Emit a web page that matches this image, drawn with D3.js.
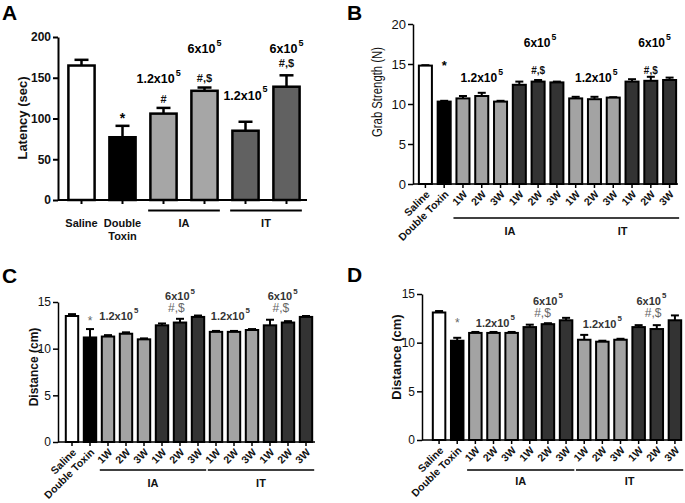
<!DOCTYPE html>
<html><head><meta charset="utf-8">
<script src="https://cdn.jsdelivr.net/npm/d3@7/dist/d3.min.js"></script>
<style>body{margin:0;background:#fff}svg{display:block}text{font-family:"Liberation Sans",Arial,Helvetica,sans-serif}</style>
</head><body>
<svg id="chart" width="685" height="503"></svg>
<script>
// ---------- data ----------
const aCategories = ["Saline", "Double Toxin", "IA 1.2x10^5", "IA 6x10^5", "IT 1.2x10^5", "IT 6x10^5"];
const aGroups = ["saline", "toxin", "iaLow", "iaHigh", "itLow", "itHigh"];
const aMeans = [165, 77, 106, 134, 85, 139];
const aErrors = [7, 14, 7, 4, 11, 14];
const aTicks = [0, 50, 100, 150, 200];

const weekCategories = ["Saline", "Double Toxin", "1W", "2W", "3W", "1W", "2W", "3W", "1W", "2W", "3W", "1W", "2W", "3W"];
const weekGroups = ["saline", "toxin", "iaLow", "iaLow", "iaLow", "iaHigh", "iaHigh", "iaHigh", "itLow", "itLow", "itLow", "itHigh", "itHigh", "itHigh"];

const bMeans = [14.8, 10.3, 10.7, 11.0, 10.3, 12.4, 12.8, 12.7, 10.7, 10.6, 10.8, 12.8, 12.9, 13.0];
const bErrors = [0.05, 0.1, 0.3, 0.4, 0.1, 0.4, 0.2, 0.1, 0.2, 0.3, 0.05, 0.3, 0.5, 0.3];
const bTicks = [0, 5, 10, 15, 20];

const cMeans = [13.5, 11.2, 11.3, 11.6, 11.0, 12.5, 12.8, 13.4, 11.8, 11.8, 12.0, 12.5, 12.8, 13.4];
const cErrors = [0.2, 0.9, 0.15, 0.15, 0.1, 0.2, 0.4, 0.15, 0.1, 0.1, 0.1, 0.6, 0.15, 0.1];
const dMeans = [13.1, 10.2, 11.0, 11.0, 11.0, 11.6, 11.9, 12.3, 10.3, 10.1, 10.3, 11.6, 11.4, 12.3];
const dErrors = [0.15, 0.3, 0.1, 0.1, 0.1, 0.25, 0.1, 0.25, 0.5, 0.1, 0.1, 0.2, 0.4, 0.5];
const cdTicks = [0, 5, 10, 15];

const groupLabels = ["IA", "IT"];
const groupSpans = [[2, 3], [4, 5]];      // panel A bar index spans
const weekGroupSpans = [[2, 7], [8, 13]]; // panels B-D

// annotations: text, superscript, bar position (index), value level (data units)
const aNotes = [
  {t: "*", bar: 1, v: 94, kind: "star"},
  {t: "#", bar: 2, v: 119, kind: "sig"},
  {t: "#,$", bar: 3, v: 145, kind: "sig"},
  {t: "#,$", bar: 5, v: 163, kind: "sig"},
  {t: "1.2x10", sup: "5", bar: 1.88, v: 143.5, kind: "dose"},
  {t: "6x10", sup: "5", bar: 3, v: 180, kind: "dose"},
  {t: "1.2x10", sup: "5", bar: 4, v: 123, kind: "dose"},
  {t: "6x10", sup: "5", bar: 5, v: 180, kind: "dose"}
];
const bNotes = [
  {t: "*", bar: 1, v: 14.2, kind: "star"},
  {t: "1.2x10", sup: "5", bar: 3, v: 12.75, kind: "dose"},
  {t: "6x10", sup: "5", bar: 6.1, v: 17.1, kind: "dose"},
  {t: "#,$", bar: 6, v: 13.75, kind: "sig"},
  {t: "1.2x10", sup: "5", bar: 9.1, v: 12.75, kind: "dose"},
  {t: "6x10", sup: "5", bar: 12.2, v: 17.1, kind: "dose"},
  {t: "#,$", bar: 12, v: 13.75, kind: "sig"}
];
const cNotes = [
  {t: "*", bar: 1, v: 12.5, kind: "star"},
  {t: "1.2x10", sup: "5", bar: 2.6, v: 13.1, kind: "dose"},
  {t: "6x10", sup: "5", bar: 6, v: 15.2, kind: "dose"},
  {t: "#,$", bar: 5.8, v: 13.9, kind: "sig"},
  {t: "1.2x10", sup: "5", bar: 8.8, v: 13.1, kind: "dose"},
  {t: "6x10", sup: "5", bar: 11.7, v: 15.2, kind: "dose"},
  {t: "#,$", bar: 11.6, v: 13.9, kind: "sig"}
];
const dNotes = [
  {t: "*", bar: 1, v: 11.6, kind: "star"},
  {t: "1.2x10", sup: "5", bar: 3.1, v: 11.6, kind: "dose"},
  {t: "6x10", sup: "5", bar: 6, v: 13.9, kind: "dose"},
  {t: "#,$", bar: 5.7, v: 12.65, kind: "sig"},
  {t: "1.2x10", sup: "5", bar: 9, v: 11.5, kind: "dose"},
  {t: "6x10", sup: "5", bar: 11.7, v: 13.9, kind: "dose"},
  {t: "#,$", bar: 11.8, v: 12.65, kind: "sig"}
];

// ---------- drawing ----------
const svg = d3.select("#chart");

function panel(o) {
  const n = o.means.length;
  const g = svg.append("g");
  const x = d3.scaleBand().domain(d3.range(n)).range(o.xRange).paddingInner(o.pi).paddingOuter(o.po);
  const y = d3.scaleLinear().domain(o.yDomain).range(o.yRange);
  const cx = i => x(i) + x.bandwidth() / 2;
  const pos = b => x(0) + x.bandwidth() / 2 + b * x.step();

  // error bars (upper only)
  const eg = g.append("g").attr("stroke", "#000").attr("stroke-width", o.sw);
  o.means.forEach((m, i) => {
    eg.append("line").attr("x1", cx(i)).attr("x2", cx(i)).attr("y1", y(m)).attr("y2", y(m + o.errors[i]));
    eg.append("line").attr("x1", cx(i) - o.cap / 2).attr("x2", cx(i) + o.cap / 2)
      .attr("y1", y(m + o.errors[i])).attr("y2", y(m + o.errors[i]));
  });

  // bars
  g.append("g").selectAll("rect").data(o.means).join("rect")
    .attr("x", (d, i) => x(i) + o.sw / 2)
    .attr("y", d => y(d))
    .attr("width", x.bandwidth() - o.sw)
    .attr("height", d => y(0) - y(d))
    .attr("fill", (d, i) => o.colors[o.groups[i]])
    .attr("stroke", "#000").attr("stroke-width", o.sw);

  // y axis
  const ya = g.append("g").attr("transform", `translate(${o.axisX},0)`)
    .call(d3.axisLeft(y).tickValues(o.ticks).tickSize(5).tickSizeOuter(0).tickPadding(2));
  ya.select(".domain").attr("stroke-width", o.aw);
  ya.selectAll(".tick line").attr("stroke-width", o.aw);
  ya.selectAll(".tick text").attr("font-size", o.tickFont).attr("font-weight", o.tickWeight)
    .attr("fill", "#111").style("font-family", '"Liberation Sans",Arial,sans-serif');

  // x axis
  const xa = g.append("g").attr("transform", `translate(0,${y(0)})`)
    .call(d3.axisBottom(x).tickSize(4).tickSizeOuter(0).tickFormat(() => ""));
  xa.select(".domain").attr("d", `M${o.axisX},0H${o.xEnd}`).attr("stroke-width", o.aw);
  xa.selectAll(".tick line").attr("stroke-width", o.aw);

  // category labels
  if (o.rotate) {
    g.append("g").selectAll("text").data(o.categories).join("text")
      .attr("transform", (d, i) => `translate(${cx(i) + 5},${y(0) + 11}) rotate(-45)`)
      .attr("text-anchor", "end").attr("font-size", o.catFont).attr("font-weight", "bold")
      .attr("fill", "#111").text(d => d);
  } else {
    o.catLines.forEach((lines, i) => {
      lines.forEach((s, k) => {
        g.append("text").attr("x", cx(i)).attr("y", o.catY + k * o.catLH)
          .attr("text-anchor", "middle").attr("font-size", o.catFont).attr("font-weight", "bold")
          .attr("fill", "#111").text(s);
      });
    });
  }

  // group lines + labels
  o.spans.forEach((s, k) => {
    g.append("line").attr("x1", x(s[0]) - o.gInset).attr("x2", x(s[1]) + x.bandwidth() + o.gInset)
      .attr("y1", o.gLineY).attr("y2", o.gLineY).attr("stroke", "#000").attr("stroke-width", o.aw);
    g.append("text").attr("x", (cx(s[0]) + cx(s[1])) / 2).attr("y", o.gLabelY)
      .attr("text-anchor", "middle").attr("font-size", o.gFont).attr("font-weight", "bold")
      .attr("fill", "#111").text(groupLabels[k]);
  });

  // y label
  const yl = g.append("text").attr("transform", `translate(${o.yLabelX},${o.yLabelY}) rotate(-90)`)
    .attr("text-anchor", "middle").attr("font-size", o.yLabelFont).attr("font-weight", o.yLabelWeight)
    .attr("fill", "#111").text(o.yLabel);
  if (o.yLabelLen) yl.attr("textLength", o.yLabelLen).attr("lengthAdjust", "spacingAndGlyphs");

  // panel letter
  g.append("text").attr("x", o.letterX).attr("y", o.letterY).attr("font-size", 21)
    .attr("font-weight", "bold").attr("fill", "#000").text(o.letter);

  // annotations
  o.notes.forEach(nt => {
    const st = o.noteStyle[nt.kind];
    const t = g.append("text").attr("x", pos(nt.bar)).attr("y", y(nt.v))
      .attr("text-anchor", "middle").attr("font-size", st.size).attr("font-weight", st.weight)
      .attr("fill", st.color);
    t.append("tspan").text(nt.t);
    if (nt.sup) t.append("tspan").attr("dy", -st.size * 0.6).attr("dx", 1)
      .attr("font-size", st.size * 0.72).text(nt.sup);
  });
}

panel({
  letter: "A", letterX: 2, letterY: 20,
  means: aMeans, errors: aErrors, groups: aGroups, categories: aCategories,
  colors: {saline: "#ffffff", toxin: "#000000", iaLow: "#a6a6a6", iaHigh: "#a6a6a6", itLow: "#616161", itHigh: "#616161"},
  xRange: [61, 307], pi: 0.3, po: 0.15, yDomain: [0, 200], yRange: [200, 37],
  axisX: 58, xEnd: 307, ticks: aTicks, tickFont: 12, tickWeight: "bold",
  sw: 2.5, aw: 2, cap: 14, rotate: false,
  catLines: [["Saline"], ["Double", "Toxin"], [], [], [], []], catY: 227, catLH: 12.5, catFont: 11,
  spans: groupSpans, gInset: 1, gLineY: 210.5, gLabelY: 227, gFont: 11,
  yLabel: "Latency (sec)", yLabelX: 27, yLabelY: 118, yLabelFont: 13, yLabelWeight: "bold",
  notes: aNotes,
  noteStyle: {star: {size: 14, weight: "bold", color: "#000"}, sig: {size: 11, weight: "bold", color: "#111"}, dose: {size: 12.5, weight: "bold", color: "#000"}}
});

const weekColors = {saline: "#ffffff", toxin: "#000000", iaLow: "#a3a3a3", iaHigh: "#333333", itLow: "#a3a3a3", itHigh: "#333333"};

panel({
  letter: "B", letterX: 347, letterY: 20,
  means: bMeans, errors: bErrors, groups: weekGroups, categories: weekCategories, colors: weekColors,
  xRange: [416, 679], pi: 0.2, po: 0.1, yDomain: [0, 20], yRange: [184, 24],
  axisX: 413, xEnd: 678, ticks: bTicks, tickFont: 13, tickWeight: "normal",
  sw: 2, aw: 1.5, cap: 8, rotate: true, catFont: 10.5,
  spans: weekGroupSpans, gInset: 2, gLineY: 218, gLabelY: 235, gFont: 11,
  yLabel: "Grab Strength (N)", yLabelX: 382, yLabelY: 92, yLabelFont: 14, yLabelWeight: "normal", yLabelLen: 90,
  notes: bNotes,
  noteStyle: {star: {size: 13, weight: "bold", color: "#000"}, sig: {size: 10, weight: "bold", color: "#111"}, dose: {size: 12, weight: "bold", color: "#000"}}
});

panel({
  letter: "C", letterX: 2, letterY: 283,
  means: cMeans, errors: cErrors, groups: weekGroups, categories: weekCategories, colors: weekColors,
  xRange: [63, 315], pi: 0.2, po: 0.1, yDomain: [0, 15], yRange: [442, 302],
  axisX: 58, xEnd: 315, ticks: cdTicks, tickFont: 12, tickWeight: "normal",
  sw: 2, aw: 1.5, cap: 8, rotate: true, catFont: 10.5,
  spans: weekGroupSpans, gInset: 1, gLineY: 470, gLabelY: 487, gFont: 11,
  yLabel: "Distance (cm)", yLabelX: 38, yLabelY: 367, yLabelFont: 12, yLabelWeight: "bold",
  notes: cNotes,
  noteStyle: {star: {size: 12, weight: "normal", color: "#666"}, sig: {size: 12, weight: "normal", color: "#666"}, dose: {size: 11, weight: "bold", color: "#333"}}
});

panel({
  letter: "D", letterX: 347, letterY: 282,
  means: dMeans, errors: dErrors, groups: weekGroups, categories: weekCategories, colors: weekColors,
  xRange: [430, 684], pi: 0.2, po: 0.1, yDomain: [0, 15], yRange: [440, 294],
  axisX: 422, xEnd: 680, ticks: cdTicks, tickFont: 12, tickWeight: "normal",
  sw: 2, aw: 1.5, cap: 8, rotate: true, catFont: 10.5,
  spans: weekGroupSpans, gInset: 1, gLineY: 470, gLabelY: 485, gFont: 11,
  yLabel: "Distance (cm)", yLabelX: 401, yLabelY: 357, yLabelFont: 13, yLabelWeight: "bold",
  notes: dNotes,
  noteStyle: {star: {size: 12, weight: "normal", color: "#666"}, sig: {size: 12, weight: "normal", color: "#666"}, dose: {size: 11, weight: "bold", color: "#333"}}
});
</script>
</body></html>
